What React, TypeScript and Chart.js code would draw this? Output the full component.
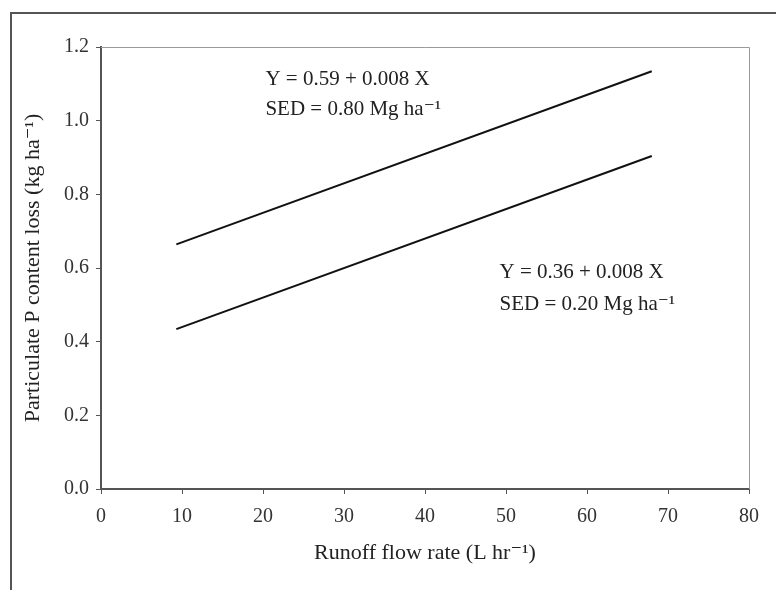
import React, { useEffect, useRef } from "react";
import { Chart, registerables } from "chart.js";

Chart.register(...registerables);

// Data
const upperX = [9.3, 68];
const upperY = [0.664, 1.134];
const lowerX = [9.3, 68];
const lowerY = [0.434, 0.904];

const xTicks = [0, 10, 20, 30, 40, 50, 60, 70, 80];
const yTicks = [0, 0.2, 0.4, 0.6, 0.8, 1.0, 1.2];

const upperLabel = ["Y = 0.59 + 0.008 X", "SED = 0.80 Mg ha⁻¹"];
const lowerLabel = ["Y = 0.36 + 0.008 X", "SED = 0.20 Mg ha⁻¹"];
const upperLabelPos = { x: 20.3, y: [1.113, 1.031] };
const lowerLabelPos = { x: 49.2, y: [0.588, 0.50] };

const xTitle = "Runoff flow rate (L hr⁻¹)";
const yTitle = "Particulate P content loss (kg ha⁻¹)";

const SERIF = "'Liberation Serif', 'Times New Roman', 'DejaVu Serif', serif";

const decorPlugin = {
  id: "decor",
  beforeDraw(chart: any) {
    const ctx = chart.ctx;
    ctx.save();
    ctx.fillStyle = "#ffffff";
    ctx.fillRect(0, 0, chart.width, chart.height);
    // outer figure frame (left and top)
    ctx.strokeStyle = "#555555";
    ctx.lineWidth = 2;
    ctx.beginPath();
    ctx.moveTo(11, chart.height);
    ctx.lineTo(11, 13);
    ctx.lineTo(chart.width, 13);
    ctx.stroke();
    ctx.restore();
  },
  beforeDatasetsDraw(chart: any) {
    const { ctx, chartArea } = chart;
    ctx.save();
    ctx.strokeStyle = "#9a9a9a";
    ctx.lineWidth = 1;
    ctx.beginPath();
    ctx.moveTo(chartArea.left, chartArea.top + 0.5);
    ctx.lineTo(chartArea.right + 0.5, chartArea.top + 0.5);
    ctx.lineTo(chartArea.right + 0.5, chartArea.bottom);
    ctx.stroke();
    ctx.restore();
  },
  afterDatasetsDraw(chart: any) {
    const { ctx, scales } = chart;
    ctx.save();
    ctx.fillStyle = "#222222";
    ctx.font = "21px " + SERIF;
    ctx.textAlign = "left";
    ctx.textBaseline = "middle";
    const draw = (lines: string[], pos: { x: number; y: number[] }) => {
      lines.forEach((t, i) => {
        ctx.fillText(t, scales.x.getPixelForValue(pos.x), scales.y.getPixelForValue(pos.y[i]));
      });
    };
    draw(upperLabel, upperLabelPos);
    draw(lowerLabel, lowerLabelPos);
    ctx.restore();
  },
};

export default function App() {
  const ref = useRef<HTMLCanvasElement>(null);
  useEffect(() => {
    if (!ref.current) return;
    const chart = new Chart(ref.current, {
      type: "scatter",
      data: {
        datasets: [
          {
            label: "SED = 0.80",
            data: upperX.map((x, i) => ({ x, y: upperY[i] })),
            showLine: true,
            borderColor: "#111111",
            borderWidth: 2,
            pointRadius: 0,
          },
          {
            label: "SED = 0.20",
            data: lowerX.map((x, i) => ({ x, y: lowerY[i] })),
            showLine: true,
            borderColor: "#111111",
            borderWidth: 2,
            pointRadius: 0,
          },
        ],
      },
      options: {
        animation: false,
        responsive: false,
        devicePixelRatio: 1,
        layout: { padding: { left: 0, top: 47, right: 27, bottom: 0 } },
        plugins: { legend: { display: false }, tooltip: { enabled: false } },
        scales: {
          x: {
            type: "linear",
            min: 0,
            max: 80,
            afterFit: (s: any) => {
              s.height = 101;
            },
            afterBuildTicks: (s: any) => {
              s.ticks = xTicks.map((v) => ({ value: v }));
            },
            grid: { display: true, drawOnChartArea: false, drawTicks: true, tickLength: 5, color: "#555555" },
            border: { display: true, color: "#555555", width: 2 },
            ticks: { padding: 11, color: "#333333", font: { family: SERIF, size: 20 } },
            title: {
              display: true,
              text: xTitle,
              color: "#222222",
              font: { family: SERIF, size: 22 },
              padding: { top: 0, bottom: 24 },
            },
          },
          y: {
            type: "linear",
            min: 0,
            max: 1.2,
            afterFit: (s: any) => {
              s.width = 101;
            },
            afterBuildTicks: (s: any) => {
              s.ticks = yTicks.map((v) => ({ value: v }));
            },
            grid: { display: true, drawOnChartArea: false, drawTicks: true, tickLength: 5, color: "#555555" },
            border: { display: true, color: "#555555", width: 2 },
            ticks: {
              padding: 7,
              color: "#333333",
              font: { family: SERIF, size: 20 },
              callback: (v: any) => Number(v).toFixed(1),
            },
            title: {
              display: true,
              text: yTitle,
              color: "#222222",
              font: { family: SERIF, size: 22 },
              padding: { top: 20, bottom: 0 },
            },
          },
        },
      },
      plugins: [decorPlugin],
    } as any);
    return () => chart.destroy();
  }, []);
  return (
    <div style={{ position: "absolute", left: 0, top: 0, width: 776, height: 590 }}>
      <canvas ref={ref} width={776} height={590} />
    </div>
  );
}
